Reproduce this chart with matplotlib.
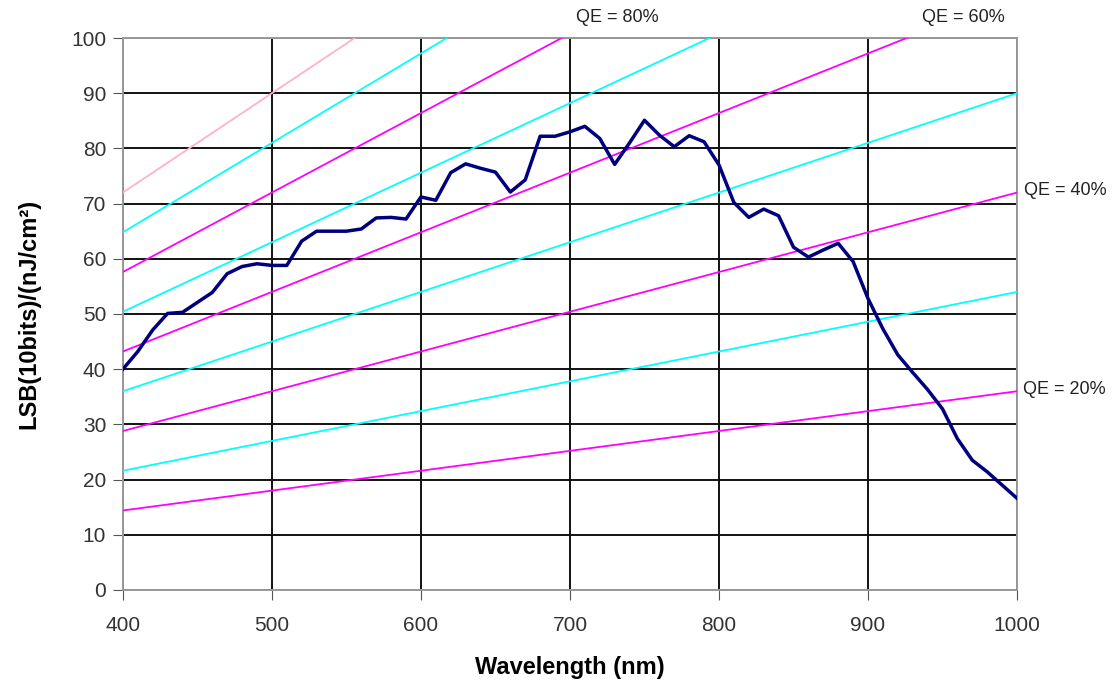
import numpy as np
import matplotlib.pyplot as plt

plt.rcParams['font.family'] = ['Liberation Sans', 'DejaVu Sans']

# sensor response curve
wl = [400, 410, 420, 430, 440, 450, 460, 470, 480, 490, 500, 510, 520, 530, 540,
      550, 560, 570, 580, 590, 600, 610, 620, 630, 640, 650, 660, 670, 680, 690,
      700, 710, 720, 730, 740, 750, 760, 770, 780, 790, 800, 810, 820, 830, 840,
      850, 860, 870, 880, 890, 900, 910, 920, 930, 940, 950, 960, 970, 980, 990, 1000]
lsb = [40.0, 43.2, 47.1, 50.1, 50.3, 52.1, 53.9, 57.3, 58.6, 59.1, 58.8, 58.8, 63.2, 65.0, 65.0,
       65.0, 65.4, 67.4, 67.5, 67.2, 71.2, 70.6, 75.6, 77.2, 76.4, 75.7, 72.1, 74.3, 82.2, 82.2,
       83.0, 84.0, 81.8, 77.1, 81.0, 85.1, 82.4, 80.3, 82.3, 81.2, 77.0, 70.2, 67.5, 69.0, 67.8,
       62.1, 60.3, 61.6, 62.8, 59.5, 52.8, 47.3, 42.6, 39.4, 36.3, 32.8, 27.4, 23.5, 21.4, 19.0, 16.6]

# QE reference lines: value at 400 nm and at 1000 nm
qe = [20, 30, 40, 50, 60, 70, 80, 90, 100]
qe_start = [14.4, 21.6, 28.8, 36.0, 43.2, 50.4, 57.6, 64.8, 72.0]
qe_end = [36.0, 54.0, 72.0, 90.0, 108.0, 126.0, 144.0, 162.0, 180.0]
qe_col = ['#ff00ff', '#00ffff', '#ff00ff', '#00ffff', '#ff00ff', '#00ffff', '#ff00ff', '#00ffff', '#ffb0d0']

fig = plt.figure(figsize=(11.17, 6.86), dpi=100)
ax = fig.add_axes([0.110, 0.140, 0.8005, 0.8046])

for q, s, e, c in zip(qe, qe_start, qe_end, qe_col):
    ax.plot([400, 1000], [s, e], color=c, lw=1.3, zorder=3)

ax.plot(wl, lsb, color='#00007f', lw=2.5, zorder=4)

ax.set_xlim(400, 1000)
ax.set_ylim(0, 100)
ax.set_xticks(range(400, 1001, 100))
ax.set_yticks(range(0, 101, 10))
ax.grid(True, color='#111111', lw=1.4)
ax.set_axisbelow(True)
for sp in ax.spines.values():
    sp.set_color('#999999')
    sp.set_linewidth(1.4)
ax.tick_params(labelsize=15, length=7, color='#555555', labelcolor='#333333', direction='out')
ax.tick_params(axis='x', pad=12)
ax.tick_params(axis='y', pad=5)

ax.set_xlabel('Wavelength (nm)', fontsize=17, fontweight='bold', labelpad=15)
ax.set_ylabel('LSB(10bits)/(nJ/cm²)', fontsize=17, fontweight='bold', labelpad=22)

lab = dict(fontsize=13, color='#222222', clip_on=False)
ax.text(732, 103.8, 'QE = 80%', ha='center', va='center', **lab)
ax.text(964, 103.8, 'QE = 60%', ha='center', va='center', **lab)
ax.text(1005, 72.4, 'QE = 40%', ha='left', va='center', **lab)
ax.text(1004, 36.4, 'QE = 20%', ha='left', va='center', **lab)

fig.savefig('out.png', dpi=100)
